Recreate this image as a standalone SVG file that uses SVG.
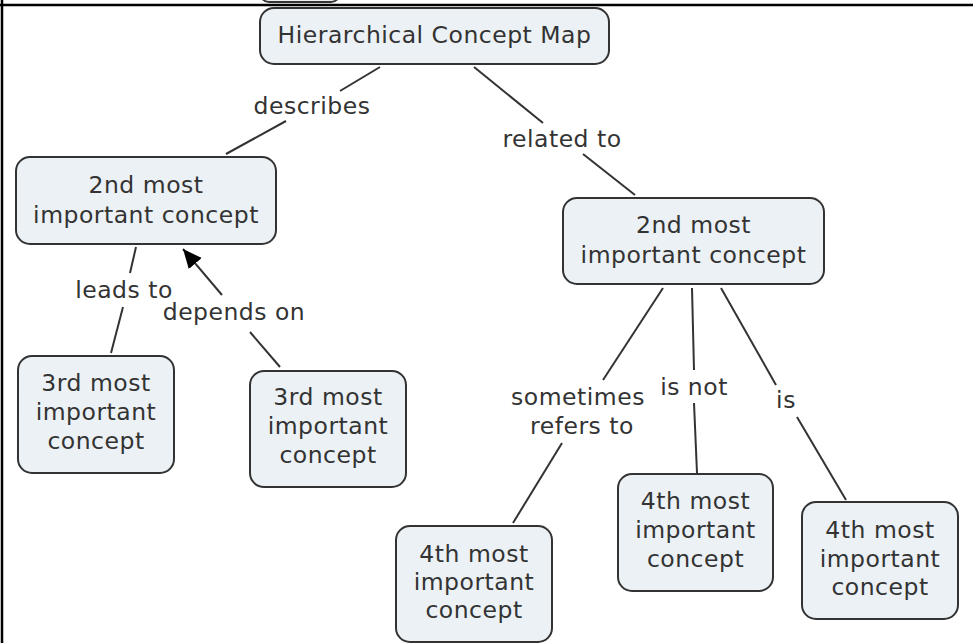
<svg xmlns="http://www.w3.org/2000/svg" width="973" height="643" viewBox="0 0 973 643">
  <style>
    .node rect { fill: #ebf1f4; stroke: #333333; stroke-width: 2; }
    text { font-family: "DejaVu Sans", Verdana, sans-serif; font-size: 23.5px; letter-spacing: 0.5px; fill: #333333; text-anchor: middle; }
    .link { stroke: #333333; stroke-width: 2; fill: none; }
    .frame { stroke: #000000; stroke-width: 2.5; }
  </style>
  <defs>
    <marker id="arrow" markerUnits="userSpaceOnUse" markerWidth="20" markerHeight="18" refX="19" refY="8.5" orient="auto">
      <path d="M0,0 L19,8.5 L0,17 Z" fill="#000000"/>
    </marker>
  </defs>
  <rect width="973" height="643" fill="#ffffff"/>

  <!-- clipped node above the frame -->
  <rect x="260" y="-30" width="80" height="32" rx="9" fill="#ebf1f4" stroke="#333333" stroke-width="2"/>

  <!-- frame lines -->
  <line class="frame" x1="0" y1="5" x2="973" y2="5"/>
  <line class="frame" x1="2" y1="0" x2="2" y2="643"/>

  <g id="connectors">
    <!-- describes -->
    <line class="link" x1="380" y1="67" x2="340" y2="91"/>
    <line class="link" x1="286" y1="121" x2="226" y2="154"/>
    <text x="312" y="114">describes</text>
    <!-- related to -->
    <line class="link" x1="474" y1="67" x2="543" y2="123"/>
    <line class="link" x1="583" y1="154" x2="635" y2="195"/>
    <text x="562" y="147">related to</text>
    <!-- leads to -->
    <line class="link" x1="136" y1="247" x2="130" y2="273"/>
    <line class="link" x1="123" y1="307" x2="111" y2="353"/>
    <text x="124" y="298">leads to</text>
    <!-- depends on -->
    <line class="link" x1="280" y1="367" x2="250" y2="332"/>
    <line class="link" x1="222" y1="295" x2="183" y2="249" marker-end="url(#arrow)"/>
    <text x="234" y="320">depends on</text>
    <!-- sometimes refers to -->
    <line class="link" x1="663" y1="288" x2="603" y2="380"/>
    <line class="link" x1="562" y1="443" x2="513" y2="523"/>
    <text x="578" y="405">sometimes</text>
    <text x="582" y="434">refers to</text>
    <!-- is not -->
    <line class="link" x1="692" y1="288" x2="694" y2="370"/>
    <line class="link" x1="694" y1="403" x2="697" y2="473"/>
    <text x="694" y="395">is not</text>
    <!-- is -->
    <line class="link" x1="721" y1="288" x2="776" y2="385"/>
    <line class="link" x1="797" y1="417" x2="846" y2="500"/>
    <text x="786" y="408">is</text>
  </g>

  <g id="root" class="node">
    <rect x="260" y="8" width="349" height="56" rx="14"/>
    <text x="434.5" y="43">Hierarchical Concept Map</text>
  </g>

  <g id="second-left" class="node">
    <rect x="16" y="157" width="260" height="87" rx="14"/>
    <text x="146" y="193">2nd most</text>
    <text x="146" y="223">important concept</text>
  </g>

  <g id="second-right" class="node">
    <rect x="563" y="198" width="261" height="86" rx="14"/>
    <text x="693.5" y="233">2nd most</text>
    <text x="693.5" y="263">important concept</text>
  </g>

  <g id="third-left" class="node">
    <rect x="18" y="356" width="156" height="117" rx="14"/>
    <text x="96" y="391">3rd most</text>
    <text x="96" y="420">important</text>
    <text x="96" y="449">concept</text>
  </g>

  <g id="third-right" class="node">
    <rect x="250" y="371" width="156" height="116" rx="14"/>
    <text x="328" y="405">3rd most</text>
    <text x="328" y="434">important</text>
    <text x="328" y="463">concept</text>
  </g>

  <g id="fourth-a" class="node">
    <rect x="396" y="526" width="156" height="116" rx="14"/>
    <text x="474" y="562">4th most</text>
    <text x="474" y="590">important</text>
    <text x="474" y="618">concept</text>
  </g>

  <g id="fourth-b" class="node">
    <rect x="618" y="474" width="155" height="117" rx="14"/>
    <text x="695.5" y="509">4th most</text>
    <text x="695.5" y="538">important</text>
    <text x="695.5" y="567">concept</text>
  </g>

  <g id="fourth-c" class="node">
    <rect x="802" y="502" width="156" height="117" rx="14"/>
    <text x="880" y="538">4th most</text>
    <text x="880" y="567">important</text>
    <text x="880" y="595">concept</text>
  </g>
</svg>
